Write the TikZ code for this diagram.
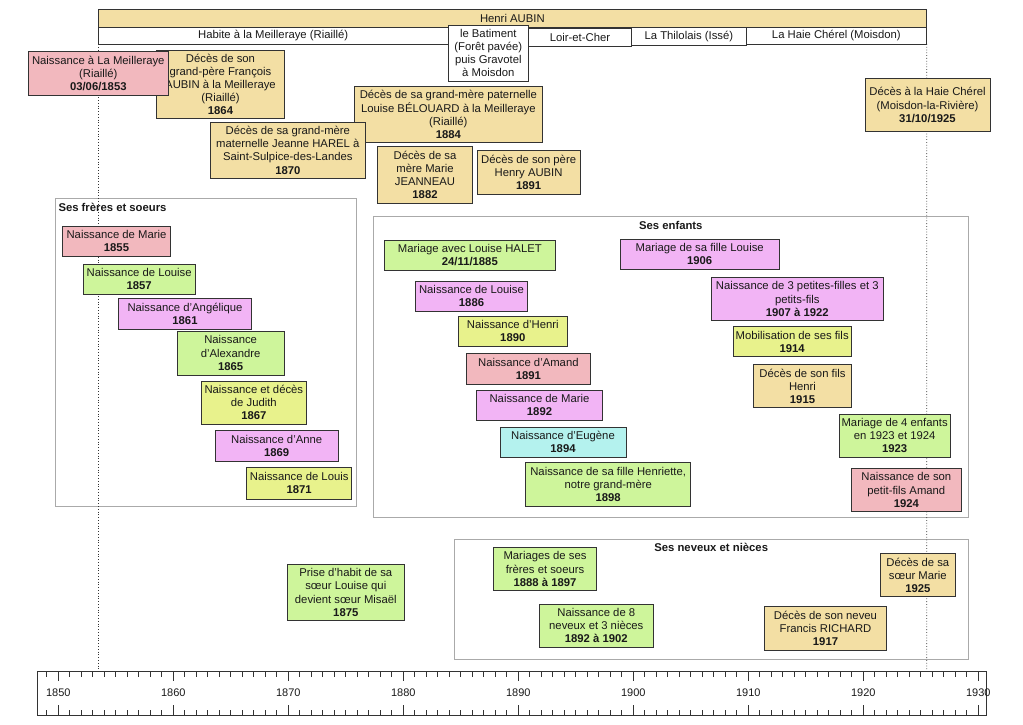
\documentclass[tikz,border=0pt]{standalone}
\usepackage{fontspec}
\setmainfont{Liberation Sans}
\usetikzlibrary{positioning}
\definecolor{tanc}{RGB}{243,223,164}
\definecolor{pinkc}{RGB}{242,184,190}
\definecolor{greenc}{RGB}{206,245,155}
\definecolor{limec}{RGB}{232,242,140}
\definecolor{magc}{RGB}{242,180,245}
\definecolor{cyanc}{RGB}{180,242,238}
\definecolor{framec}{RGB}{170,170,170}
\begin{document}
\begin{tikzpicture}[x=1pt,y=-1pt,
  txt/.style={font=\fontsize{11.3}{13.1}\selectfont,text=black!90},
  evt/.style={txt,draw=black!80,line width=0.9pt,anchor=north west,inner sep=0pt,outer sep=0pt,align=center},
  place/.style={evt,fill=white},
  group/.style={draw=framec,line width=0.9pt},
  grouptitle/.style={txt,font=\fontsize{11.3}{13.1}\selectfont\bfseries,inner sep=0pt},
  lifeline/.style={dotted,line width=0.8pt,black!80},
  yr/.style={txt,font=\fontsize{11}{12}\selectfont,inner sep=0pt}]
\useasboundingbox (0,0) rectangle (1023,725);
% groups
\draw[group] (55,198.3) rectangle (356.7,506.7);
\draw[group] (373.3,216) rectangle (968.3,517.8);
\draw[group] (454,539.3) rectangle (968.3,659.7);
\node[grouptitle,anchor=west] (tfreres) at (58.3,207.7) {Ses frères et soeurs};
\node[grouptitle] (tenfants) at (670.8,225) {Ses enfants};
\node[grouptitle] (tneveux) at (711.2,547.5) {Ses neveux et nièces};
% ruler
\coordinate (axisL) at (98,671);
\coordinate (axisR) at (926.7,671);
\draw[line width=0.9pt,black!80] (37.3,671) rectangle (986.7,715);
\foreach \a in {1849,...,1930}{
  \pgfmathsetmacro\xx{58.3+(\a-1850)*11.5}
  \pgfmathsetmacro\len{mod(\a,10)==0 ? 10 : 5.5}
  \draw[line width=0.8pt,black!80] (\xx,671) -- ++(0,\len);
  \draw[line width=0.8pt,black!80] (\xx,715) -- ++(0,-\len);
}
\foreach \a in {1850,1860,...,1930}
  \node[yr] at ({58.3+(\a-1850)*11.5},693) {\a};
% life
\node[evt,fill=tanc,minimum width=828.7pt,minimum height=17.5pt] (henri) at (98,9.5) {Henri AUBIN};
\node[place,minimum width=350.3pt,minimum height=17pt] (habite) at (98,27) {Habite à la Meilleraye (Riaillé)};
\node[place,minimum width=103.4pt,minimum height=17.7pt] (loir) at (528.3,28.3) {Loir-et-Cher};
\node[place,minimum width=114.3pt,minimum height=17.7pt] (thilolais) at (631.7,27.3) {La Thilolais (Issé)};
\node[place,minimum width=180.7pt,minimum height=16.7pt] (haie) at (746,27.3) {La Haie Chérel (Moisdon)};
\node[place,minimum width=80pt,minimum height=56pt] (batiment) at (448.3,25) {le Batiment\\(Forêt pavée)\\puis Gravotel\\à Moisdon};
\draw[lifeline] (habite.south west) -- (axisL);
\draw[lifeline] (haie.south east) -- (axisR);
% events
\node[evt,fill=tanc,minimum width=127.6pt,minimum height=68.3pt] (gpfrancois) at (156.7,50) {Décès de son\\grand-père François\\AUBIN à la Meilleraye\\(Riaillé)\\\textbf{1864}};
\node[evt,fill=pinkc,minimum width=140pt,minimum height=43.3pt] (naissance) at (28.3,51.7) {Naissance à La Meilleraye\\(Riaillé)\\\textbf{03/06/1853}};
\node[evt,fill=tanc,minimum width=188.7pt,minimum height=55.6pt] (gmbelouard) at (354,86.7) {Décès de sa grand-mère paternelle\\Louise BÉLOUARD à la Meilleraye\\(Riaillé)\\\textbf{1884}};
\node[evt,fill=tanc,minimum width=154.3pt,minimum height=56pt] (gmharel) at (210.7,122.3) {Décès de sa grand-mère\\maternelle Jeanne HAREL à\\Saint-Sulpice-des-Landes\\\textbf{1870}};
\node[evt,fill=tanc,minimum width=95.4pt,minimum height=56.3pt] (mere) at (377.3,146.7) {Décès de sa\\mère Marie\\JEANNEAU\\\textbf{1882}};
\node[evt,fill=tanc,minimum width=102.7pt,minimum height=44pt] (pere) at (477.3,150) {Décès de son père\\Henry AUBIN\\\textbf{1891}};
\node[evt,fill=tanc,minimum width=125pt,minimum height=53.4pt] (deces) at (865,78.3) {Décès à la Haie Chérel\\(Moisdon-la-Rivière)\\\textbf{31/10/1925}};
% freres et soeurs
\node[evt,fill=pinkc,minimum width=108.4pt,minimum height=30.7pt] (fmarie) at (62.3,226) {Naissance de Marie\\\textbf{1855}};
\node[evt,fill=greenc,minimum width=111.7pt,minimum height=30.3pt] (flouise) at (83.3,264) {Naissance de Louise\\\textbf{1857}};
\node[evt,fill=magc,minimum width=133.4pt,minimum height=30.7pt] (fangelique) at (118.3,298.3) {Naissance d'Angélique\\\textbf{1861}};
\node[evt,fill=greenc,minimum width=106.7pt,minimum height=44pt] (falexandre) at (177.3,331) {Naissance\\d'Alexandre\\\textbf{1865}};
\node[evt,fill=limec,minimum width=105.7pt,minimum height=43.3pt] (fjudith) at (201,381) {Naissance et décès\\de Judith\\\textbf{1867}};
\node[evt,fill=magc,minimum width=123.3pt,minimum height=31.4pt] (fanne) at (215,430.3) {Naissance d'Anne\\\textbf{1869}};
\node[evt,fill=limec,minimum width=105pt,minimum height=31.3pt] (flouis) at (246.7,467.7) {Naissance de Louis\\\textbf{1871}};
% enfants
\node[evt,fill=greenc,minimum width=171.7pt,minimum height=30.7pt] (mariage) at (384,240) {Mariage avec Louise HALET\\\textbf{24/11/1885}};
\node[evt,fill=magc,minimum width=111.6pt,minimum height=30pt] (elouise) at (415.7,281) {Naissance de Louise\\\textbf{1886}};
\node[evt,fill=limec,minimum width=109pt,minimum height=30pt] (ehenri) at (458.3,316) {Naissance d'Henri\\\textbf{1890}};
\node[evt,fill=pinkc,minimum width=123.3pt,minimum height=30.7pt] (eamand) at (466.7,353.3) {Naissance d'Amand\\\textbf{1891}};
\node[evt,fill=magc,minimum width=125.6pt,minimum height=30.7pt] (emarie) at (476.7,390) {Naissance de Marie\\\textbf{1892}};
\node[evt,fill=cyanc,minimum width=126pt,minimum height=30pt] (eeugene) at (500,427.3) {Naissance d'Eugène\\\textbf{1894}};
\node[evt,fill=greenc,minimum width=165pt,minimum height=44pt] (ehenriette) at (525.7,462.7) {Naissance de sa fille Henriette,\\notre grand-mère\\\textbf{1898}};
\node[evt,fill=magc,minimum width=159.3pt,minimum height=30.3pt] (emariage) at (620,239) {Mariage de sa fille Louise\\\textbf{1906}};
\node[evt,fill=magc,minimum width=172pt,minimum height=43.4pt] (epetits) at (711.3,277.3) {Naissance de 3 petites-filles et 3\\petits-fils\\\textbf{1907 à 1922}};
\node[evt,fill=limec,minimum width=117.7pt,minimum height=30pt] (emobil) at (733.3,326.7) {Mobilisation de ses fils\\\textbf{1914}};
\node[evt,fill=tanc,minimum width=98.4pt,minimum height=43.4pt] (efils) at (753.3,364.3) {Décès de son fils\\Henri\\\textbf{1915}};
\node[evt,fill=greenc,minimum width=110.7pt,minimum height=43.3pt] (equatre) at (839.3,414) {Mariage de 4 enfants\\en 1923 et 1924\\\textbf{1923}};
\node[evt,fill=pinkc,minimum width=109.3pt,minimum height=43.4pt] (eamandpf) at (851.7,468.3) {Naissance de son\\petit-fils Amand\\\textbf{1924}};
% neveux et nieces
\node[evt,fill=greenc,minimum width=117pt,minimum height=56.4pt] (habit) at (287.3,564.3) {Prise d'habit de sa\\sœur Louise qui\\devient sœur Misaël\\\textbf{1875}};
\node[evt,fill=greenc,minimum width=103.4pt,minimum height=43.4pt] (nmariages) at (493.3,547.3) {Mariages de ses\\frères et soeurs\\\textbf{1888 à 1897}};
\node[evt,fill=greenc,minimum width=114pt,minimum height=43.3pt] (nneveux) at (539.3,604) {Naissance de 8\\neveux et 3 nièces\\\textbf{1892 à 1902}};
\node[evt,fill=tanc,minimum width=75.7pt,minimum height=43.4pt] (nmarie) at (880,553.3) {Décès de sa\\sœur Marie\\\textbf{1925}};
\node[evt,fill=tanc,minimum width=122.4pt,minimum height=43.3pt] (nfrancis) at (764.3,606.7) {Décès de son neveu\\Francis RICHARD\\\textbf{1917}};
\end{tikzpicture}
\end{document}
